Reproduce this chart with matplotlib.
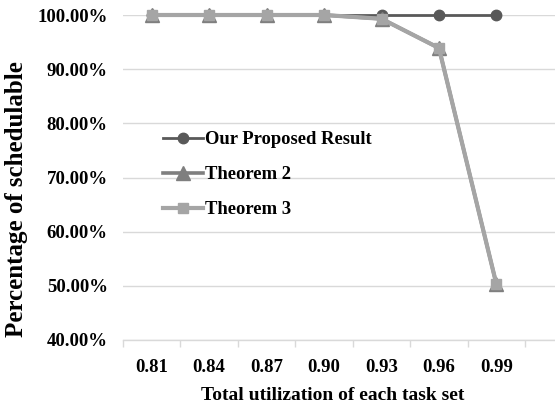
import matplotlib
matplotlib.use("Agg")
import matplotlib.pyplot as plt
import numpy as np

categories = ["0.81", "0.84", "0.87", "0.90", "0.93", "0.96", "0.99"]
proposed = [1.00, 1.00, 1.00, 1.00, 1.00, 1.00, 1.00]
theorem2 = [1.00, 1.00, 1.00, 1.00, 0.993, 0.939, 0.503]
theorem3 = [1.00, 1.00, 1.00, 1.00, 0.993, 0.939, 0.503]
yticks = [0.4, 0.5, 0.6, 0.7, 0.8, 0.9, 1.0]

plt.rcParams["font.family"] = ["Liberation Serif", "DejaVu Serif"]
plt.rcParams["font.weight"] = "bold"

W, H = 555, 408
fig = plt.figure(figsize=(W / 100, H / 100), dpi=100)
ax = fig.add_axes([123 / W, 1 - 340 / H, 1 - 123 / W, (340 - 15) / H])

x = np.arange(len(categories))
ax.plot(x, proposed, color="#595959", lw=2.0, marker="o", ms=7.5,
        label="Our Proposed Result", clip_on=False, zorder=3)
ax.plot(x, theorem2, color="#7f7f7f", lw=2.6, marker="^", ms=9.5,
        label="Theorem 2", clip_on=False, zorder=4)
ax.plot(x, theorem3, color="#a5a5a5", lw=3.0, marker="s", ms=6.5,
        label="Theorem 3", clip_on=False, zorder=5)

ax.set_ylim(0.4, 1.0)
ax.set_xlim(-0.5, 7.02)
ax.set_yticks(yticks)
ax.set_yticklabels([f"{v * 100:.2f}%" for v in yticks], fontsize=13.5, fontweight="bold")
ax.set_xticks(x)
ax.set_xticklabels(categories, fontsize=13.5, fontweight="bold")
ax.set_xticks(np.arange(-0.5, 7.0, 1.0), minor=True)
ax.tick_params(axis="x", which="major", length=0, pad=14)
ax.tick_params(axis="x", which="minor", length=5, color="#d9d9d9", width=1)
ax.tick_params(axis="y", length=0, pad=11)
ax.grid(axis="y", color="#d9d9d9", lw=1)
ax.set_axisbelow(True)
for s in ["top", "right", "left"]:
    ax.spines[s].set_visible(False)
ax.spines["bottom"].set_color("#d9d9d9")
ax.spines["bottom"].set_linewidth(1)

fig.text(333 / W, 1 - 396 / H, "Total utilization of each task set",
         fontsize=14, fontweight="bold", ha="center", va="center")
fig.text(17 / W, 1 - 199 / H, "Percentage of schedulable", rotation=90,
         fontsize=18, fontweight="bold", ha="center", va="center")

ax.legend(loc="upper left", bbox_to_anchor=(163 / W, 1 - 131 / H),
          bbox_transform=fig.transFigure, frameon=False,
          prop={"weight": "bold", "size": 13.4}, handlelength=2.15,
          handletextpad=0.1, labelspacing=0.97, borderpad=0, borderaxespad=0)

fig.savefig("out.png", dpi=100)
